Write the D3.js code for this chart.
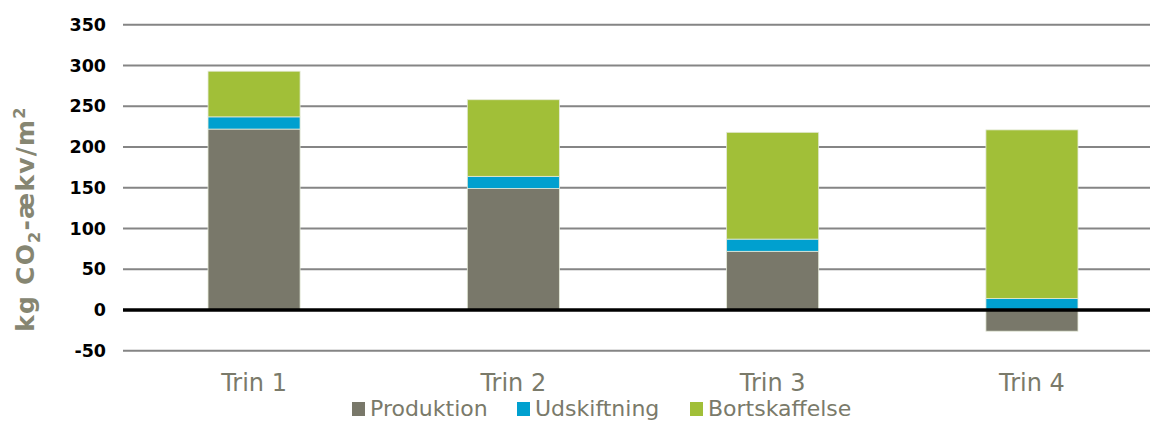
<!DOCTYPE html>
<html>
<head>
<meta charset="utf-8">
<script src="https://cdn.jsdelivr.net/npm/d3@7"></script>
<style>
  html, body { margin: 0; padding: 0; background: #fff; }
  svg { display: block; font-family: "DejaVu Sans", Verdana, sans-serif; }
</style>
</head>
<body>
<svg id="chart" width="1150" height="422"></svg>
<script>
const categories = ["Trin 1", "Trin 2", "Trin 3", "Trin 4"];
const seriesNames = ["Produktion", "Udskiftning", "Bortskaffelse"];
const produktion = [222, 149, 72, -26];
const udskiftning = [15, 15, 15, 14];
const bortskaffelse = [56, 94, 131, 207];
const yTicks = [-50, 0, 50, 100, 150, 200, 250, 300, 350];
const colors = ["#79786a", "#00a0cf", "#a1bf38"];

const rows = categories.map((c, i) => ({
  cat: c,
  Produktion: produktion[i],
  Udskiftning: udskiftning[i],
  Bortskaffelse: bortskaffelse[i]
}));

const svg = d3.select("#chart");
const x = d3.scaleBand().domain(categories).range([124.4, 1161.6]).paddingInner(0.645).paddingOuter(0.3225);
const y = d3.scaleLinear().domain([-50, 350]).range([350.75, 24.75]);

// gridlines
svg.append("g").selectAll("line").data(yTicks.filter(d => d !== 0)).join("line")
  .attr("x1", 123).attr("x2", 1150)
  .attr("y1", d => y(d)).attr("y2", d => y(d))
  .attr("stroke", "#858585").attr("stroke-width", 2);

// y tick labels
svg.append("g").selectAll("text").data(yTicks).join("text")
  .attr("x", 106).attr("y", d => y(d))
  .attr("text-anchor", "end").attr("dominant-baseline", "central")
  .attr("font-size", 17.5).attr("font-weight", "bold").attr("fill", "#000")
  .text(d => d);

// stacked bars
const stack = d3.stack().keys(seriesNames).offset(d3.stackOffsetDiverging);
const stacked = stack(rows);
svg.append("g").selectAll("g").data(stacked).join("g")
  .attr("fill", (d, i) => colors[i])
  .selectAll("rect").data(d => d).join("rect")
  .attr("x", d => x(d.data.cat))
  .attr("width", x.bandwidth())
  .attr("y", d => y(Math.max(d[0], d[1])))
  .attr("height", d => Math.abs(y(d[0]) - y(d[1])))
  .attr("stroke", "#e4e9d8").attr("stroke-width", 0.8);

// zero line
svg.append("line")
  .attr("x1", 123).attr("x2", 1150)
  .attr("y1", y(0)).attr("y2", y(0))
  .attr("stroke", "#000").attr("stroke-width", 3.5);

// category labels
svg.append("g").selectAll("text").data(categories).join("text")
  .attr("x", d => x(d) + x.bandwidth() / 2).attr("y", 391)
  .attr("text-anchor", "middle")
  .attr("font-size", 24).attr("fill", "#7a7a6a")
  .text(d => d);

// y axis title
const title = svg.append("text")
  .attr("transform", "translate(34,219) rotate(-90)")
  .attr("text-anchor", "middle")
  .attr("font-size", 25).attr("font-weight", "bold").attr("fill", "#868672")
  .attr("letter-spacing", 1.2);
title.append("tspan").text("kg CO");
title.append("tspan").attr("font-size", 16).attr("dy", 6).text("2");
title.append("tspan").attr("dy", -6).text("-ækv/m");
title.append("tspan").attr("font-size", 16).attr("dy", -9).text("2");

// legend
const legendX = [352, 517, 690];
const lg = svg.append("g").selectAll("g").data(seriesNames).join("g")
  .attr("transform", (d, i) => `translate(${legendX[i]},0)`);
lg.append("rect").attr("x", 0).attr("y", 402).attr("width", 13).attr("height", 14)
  .attr("fill", (d, i) => colors[i]);
lg.append("text").attr("x", 18).attr("y", 416)
  .attr("font-size", 22).attr("fill", "#7a7a6a")
  .text(d => d);
</script>
</body>
</html>
